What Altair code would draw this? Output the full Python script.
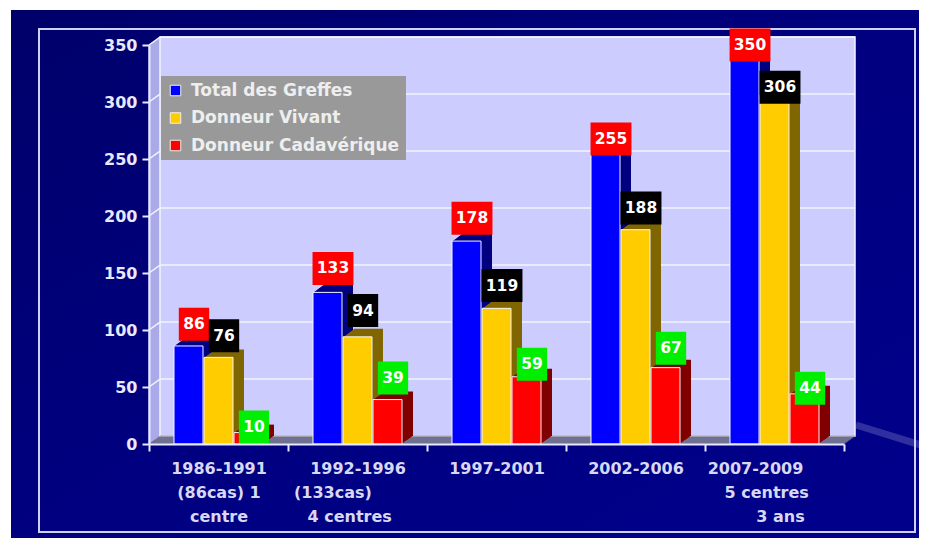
import altair as alt
import pandas as pd

NB = "\u00a0"
ZW = "\u200b"  # keeps the padding spaces from being trimmed
categories = [
    "1986-1991|(86cas) 1|centre",
    "1992-1996|(133cas)" + NB * 9 + ZW + "|4 centres" + NB * 3 + ZW,
    "1997-2001",
    "2002-2006",
    "2007-2009" + NB * 7 + ZW + "|5 centres" + NB * 3 + ZW + "|" + ZW + NB * 2 + "3 ans",
]
series = ["Total des Greffes", "Donneur Vivant", "Donneur Cadavérique"]
total = [86, 133, 178, 255, 350]
vivant = [76, 94, 119, 188, 306]
cadaverique = [10, 39, 59, 67, 44]
# heights on the value axis at which the value boxes sit in the picture
total_box = [105, 154, 198, 267.5, 350]
vivant_box = [95, 117, 139, 207, 313]
cadaverique_box = [15, 58, 70, 84, 49]

front = ["#0000ff", "#ffcc00", "#ff0000"]
dark = ["#000080", "#806600", "#800000"]
box = ["#ff0000", "#000000", "#00ee00"]

rows = []
for i, (s, vals, boxes, d, b) in enumerate(zip(series, [total, vivant, cadaverique],
                                               [total_box, vivant_box, cadaverique_box], dark, box)):
    for c, v, h in zip(categories, vals, boxes):
        rows.append(dict(cat=c, series=s, value=v, boxy=h, dark=d, boxc=b, idx=i - 1,
                         wide=v >= 100, label=str(v)))
df = pd.DataFrame(rows)

W, H = 695, 399
DX, DY = 11, 7.0  # depth of the 3D box: px across, axis units up
PITCH = 30
MID = W / 5 / 2  # middle of a category band

x_enc = alt.X("cat:N", sort=categories, scale=alt.Scale(domain=categories, paddingInner=0, paddingOuter=0),
              axis=alt.Axis(title=None, labelAngle=0, tickBand="extent", domainColor="#e8e8ff", tickColor="#e8e8ff",
                            domainWidth=2, tickWidth=2, tickSize=7, labelColor="#d8d8f4", labelFont="DejaVu Sans",
                            labelFontWeight="bold", labelFontSize=16, labelExpr="split(datum.label,'|')",
                            labelLineHeight=24, labelPadding=9, labelOverlap=False, labelBound=False, labelLimit=400,
                            zindex=1))
xo_scale = alt.Scale(domain=[-200, 200], range=[-200, 200], zero=False, nice=False)


def xo(field):
    return alt.XOffset(field, type="quantitative", scale=xo_scale)


y_scale = alt.Scale(domain=[0, 350], nice=False, zero=True)
y_axis = alt.Axis(title=None, values=[0, 50, 100, 150, 200, 250, 300, 350], grid=False, domainColor="#e8e8ff",
                  tickColor="#e8e8ff", domainWidth=2, tickWidth=2, tickSize=7, labelColor="#e8e8ff",
                  labelFont="DejaVu Sans", labelFontWeight="bold", labelFontSize=16, labelPadding=5, zindex=1)
y_enc = alt.Y("value:Q", stack=None, scale=y_scale, axis=y_axis)

one = pd.DataFrame({"a": [0]})
ticks = pd.DataFrame({"v": [0, 50, 100, 150, 200, 250, 300, 350]})

layers = []
# page background
layers.append(alt.Chart(one).mark_rect(color=alt.LinearGradient(
    gradient="linear", x1=0, x2=1, y1=0, y2=1,
    stops=[alt.GradientStop(offset=0, color="#00006a"), alt.GradientStop(offset=0.5, color="#000080"),
           alt.GradientStop(offset=1, color="#00008c")])).encode(
    x=alt.value(11 - 149), x2=alt.value(919 - 149), y=alt.value(10 - 45), y2=alt.value(538 - 45)))
# light streak lower right
layers.append(alt.Chart(one).mark_rule(color="#8888cc", opacity=0.35, strokeWidth=7).encode(
    x=alt.value(856 - 149), x2=alt.value(927 - 149), y=alt.value(425 - 45), y2=alt.value(447 - 45)))
layers.append(alt.Chart(one).mark_rect(fillOpacity=0, stroke="#d0d0f0", strokeWidth=2).encode(
    x=alt.value(39 - 149), x2=alt.value(915 - 149), y=alt.value(29 - 45), y2=alt.value(532 - 45)))
# left wall, extruded
for k in range(0, DX + 1):
    layers.append(alt.Chart(one).mark_rule(color="#ccccff", strokeWidth=1.2).encode(
        x=alt.value(k), x2=alt.value(k), y=alt.value(-k * 8 / DX), y2=alt.value(H - k * 8 / DX)))
# back wall
layers.append(alt.Chart(one).mark_rect(color="#ccccff", stroke="#f4f4ff", strokeWidth=1.5).encode(
    x=alt.value(DX), x2=alt.value(W + DX), y=alt.value(-8), y2=alt.value(H - 8)))
# floor, extruded
for k in range(0, 9):
    layers.append(alt.Chart(one).mark_rule(color="#969696", strokeWidth=1.2).encode(
        x=alt.value(k * DX / 8), x2=alt.value(W + k * DX / 8), y=alt.value(H - k), y2=alt.value(H - k)))
# gridlines on the wall and their connectors on the side wall
layers.append(alt.Chart(ticks[ticks.v > 0]).transform_calculate(t=f"datum.v + {DY}").mark_rule(
    color="#f4f4ff", strokeWidth=1.5).encode(x=alt.value(DX), x2=alt.value(W + DX), y=alt.Y("t:Q", scale=y_scale, axis=y_axis)))
layers.append(alt.Chart(ticks[ticks.v > 0]).transform_calculate(t=f"datum.v + {DY}").mark_rule(
    color="#f4f4ff", strokeWidth=1.5).encode(x=alt.value(0), x2=alt.value(DX), y=alt.Y("v:Q", scale=y_scale, axis=y_axis),
                                             y2="t:Q"))

# bars, left to right so each one covers its neighbour's side
for s in series:
    sub = df[df.series == s]
    for k in range(DX, 0, -1):
        f = k / DX * DY
        layers.append(alt.Chart(sub).transform_calculate(
            top=f"datum.value + {f}", bot=f"{f}", off=f"{MID} + datum.idx * {PITCH} + {k}").mark_bar(size=29).encode(
            x=x_enc, xOffset=xo("off"), y=alt.Y("top:Q", stack=None, scale=y_scale, axis=y_axis), y2="bot:Q",
            fill=alt.Fill("dark:N", scale=None)))
    layers.append(alt.Chart(sub).transform_calculate(off=f"{MID} + datum.idx * {PITCH}").mark_bar(
        size=29, stroke="#f4f4ff", strokeWidth=1).encode(
        x=x_enc, xOffset=xo("off"), y=y_enc,
        color=alt.Color("series:N", scale=alt.Scale(domain=series, range=front), legend=alt.Legend(
            title=None, orient="none", legendX=12, legendY=31, fillColor="#999999", padding=6, symbolType="square",
            symbolSize=110, symbolStrokeColor="#f0f0f0", symbolStrokeWidth=1, labelColor="#eeeeee",
            labelFont="DejaVu Sans", labelFontWeight="bold", labelFontSize=17, labelOffset=7, rowPadding=9.5,
            labelLimit=400))))

# value boxes
for wide, shape in [(False, "M-0.92,-1H0.92V1H-0.92Z"), (True, "M-1.24,-1H1.24V1H-1.24Z")]:
    layers.append(alt.Chart(df[df.wide == wide]).transform_calculate(off=f"{MID} + datum.idx * {PITCH} + 5.5").mark_point(
        shape=shape, filled=True, size=33 * 33, opacity=1).encode(
        x=x_enc, xOffset=xo("off"), y=alt.Y("boxy:Q", scale=y_scale, axis=y_axis), fill=alt.Fill("boxc:N", scale=None)))
layers.append(alt.Chart(df).transform_calculate(off=f"{MID} + datum.idx * {PITCH} + 5.5").mark_text(
    color="#ffffff", font="DejaVu Sans", fontWeight="bold", fontSize=15.5, baseline="middle").encode(
    x=x_enc, xOffset=xo("off"), y=alt.Y("boxy:Q", scale=y_scale, axis=y_axis), text="label:N"))

chart = alt.layer(*layers).properties(
    width=W, height=H, background="white",
    padding={"left": 141, "top": 37, "right": 911 - 141 - W, "bottom": 538 - 8 - 37 - H},
    autosize=alt.AutoSizeParams(type="none"),
).configure_view(stroke=None)

chart.save("out.html", embed_options={"renderer": "svg", "actions": False})
